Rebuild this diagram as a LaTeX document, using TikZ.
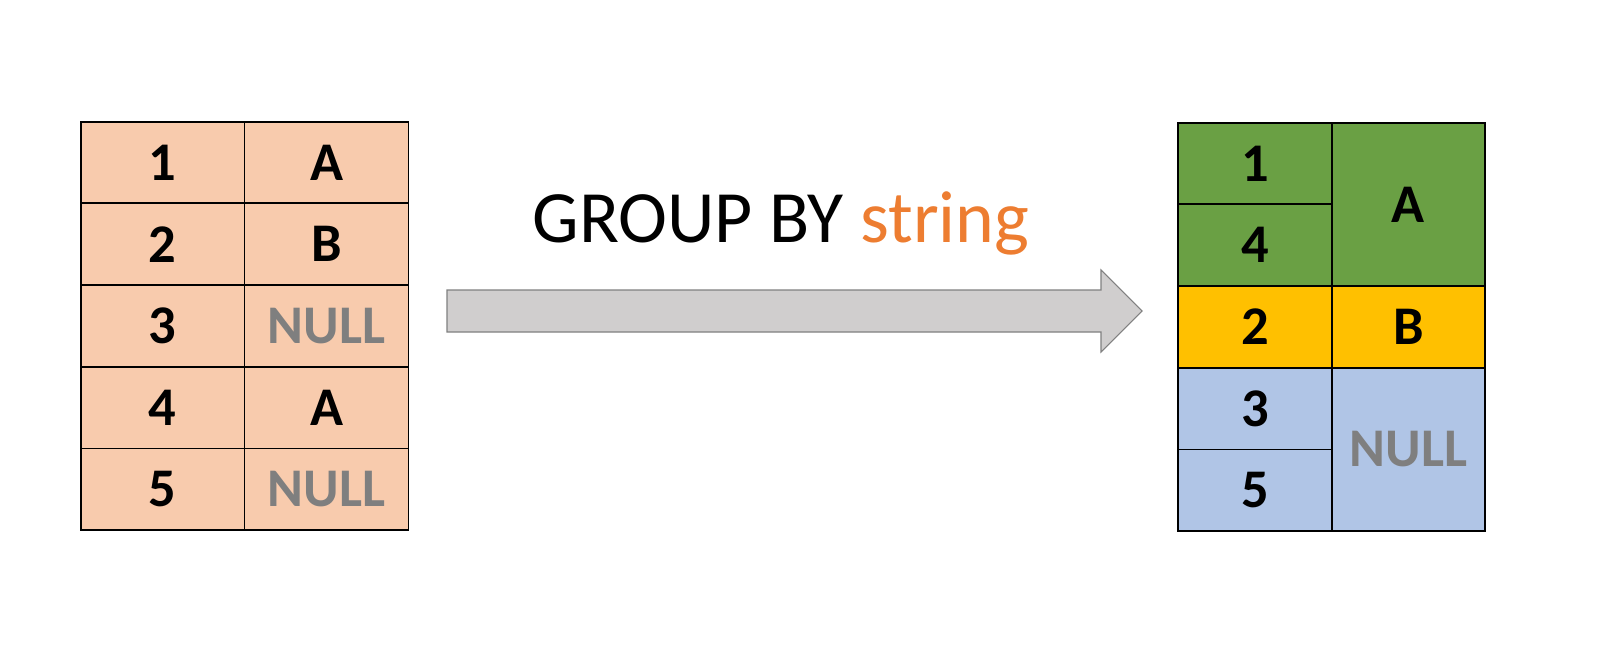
\documentclass[tikz,border=0pt]{standalone}
\usepackage{fontspec}
\setmainfont{Carlito}
\usepackage{xcolor}
\definecolor{light_peach}{RGB}{248,203,173}
\definecolor{grp_green}{RGB}{106,160,68}
\definecolor{grp_yellow}{RGB}{255,192,0}
\definecolor{grp_blue}{RGB}{176,197,230}
\definecolor{null_gray}{RGB}{127,127,127}
\definecolor{str_orange}{RGB}{237,125,49}
\definecolor{arrow_fill}{RGB}{208,206,206}
\definecolor{arrow_edge}{RGB}{128,128,128}
\usepackage{tikz}

\tikzset{
  cell/.style = {draw = black, line width = 1pt, inner sep = 0pt, outer sep = 0pt,
                 font = \fontsize{31}{36}\selectfont\bfseries},
  leftcell/.style = {cell, fill = light_peach, minimum width = 3.28cm, minimum height = 1.634cm},
  rightcell/.style = {cell, minimum width = 3.068cm, minimum height = 1.634cm},
  nulltext/.style = {text = null_gray}
}

\begin{document}
\begin{tikzpicture}[x = 0.02cm, y = -0.02cm]
\useasboundingbox (0, 0) rectangle (1615, 667);

% input table
\node [leftcell] (id1) at (162.7, 162.5) {1};
\node [leftcell] (val1) at (326.5, 162.5) {A};
\node [leftcell] (id2) at (162.7, 244.2) {2};
\node [leftcell] (val2) at (326.5, 244.2) {B};
\node [leftcell] (id3) at (162.7, 325.9) {3};
\node [leftcell, nulltext] (val3) at (326.5, 325.9) {NULL};
\node [leftcell] (id4) at (162.7, 407.6) {4};
\node [leftcell] (val4) at (326.5, 407.6) {A};
\node [leftcell] (id5) at (162.7, 489.3) {5};
\node [leftcell, nulltext] (val5) at (326.5, 489.3) {NULL};

% title and arrow
\node [anchor = base, font = \fontsize{42}{48}\selectfont] (title) at (781, 242) {GROUP BY \textcolor{str_orange}{string}};
\coordinate (tail) at (447, 311);
\coordinate (tip) at (1142, 311);
\draw [draw = arrow_edge, fill = arrow_fill, line width = 0.6pt]
  (tail) ++(0, -21) -- (1101, 290) -- (1101, 270) -- (tip) -- (1101, 352) -- (1101, 332) -- (447, 332) -- cycle;

% grouped table
\node [rightcell, fill = grp_green] (gid1) at (1255, 163.5) {1};
\node [rightcell, fill = grp_green] (gid4) at (1255, 245.2) {4};
\node [rightcell, fill = grp_green, minimum height = 3.268cm] (gvalA) at (1408.4, 204.35) {A};
\node [rightcell, fill = grp_yellow] (gid2) at (1255, 326.9) {2};
\node [rightcell, fill = grp_yellow] (gvalB) at (1408.4, 326.9) {B};
\node [rightcell, fill = grp_blue] (gid3) at (1255, 408.6) {3};
\node [rightcell, fill = grp_blue] (gid5) at (1255, 490.3) {5};
\node [rightcell, fill = grp_blue, nulltext, minimum height = 3.268cm] (gvalN) at (1408.4, 449.45) {NULL};

\end{tikzpicture}
\end{document}
